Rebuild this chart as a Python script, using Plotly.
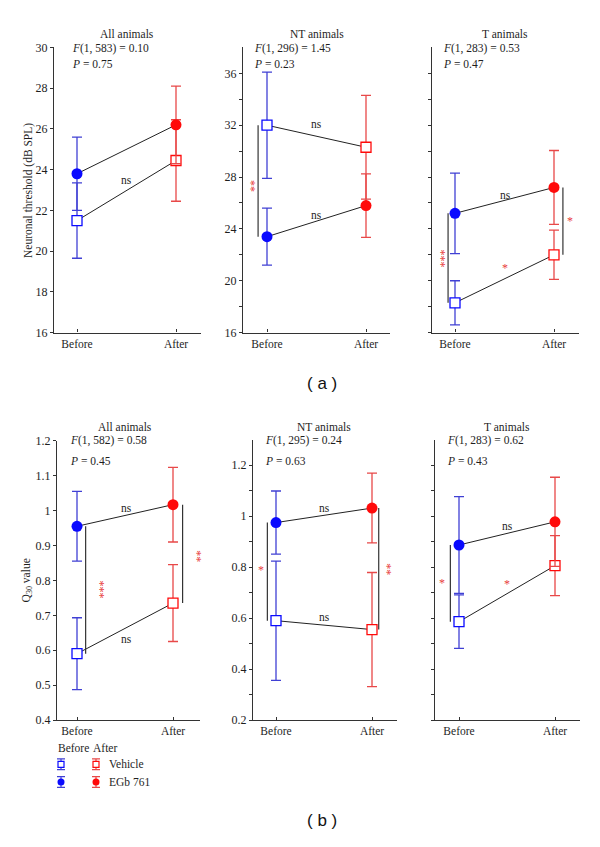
import plotly.graph_objects as go

# ---------------- data ----------------
groups = ["All animals", "NT animals", "T animals"]
conditions = ["Before", "After"]

thr_F = ["(1, 583) = 0.10", "(1, 296) = 1.45", "(1, 283) = 0.53"]
thr_P = ["0.75", "0.23", "0.47"]
q30_F = ["(1, 582) = 0.58", "(1, 295) = 0.24", "(1, 283) = 0.62"]
q30_P = ["0.45", "0.63", "0.43"]

thr_vehicle_mean = [[21.5, 24.45], [32.0, 30.3], [18.3, 22.0]]
thr_vehicle_err = [[1.85, 2.0], [4.1, 4.0], [1.7, 1.9]]
thr_egb_mean = [[23.8, 26.2], [23.4, 25.8], [25.2, 27.2]]
thr_egb_err = [[1.8, 1.9], [2.2, 2.45], [3.1, 2.85]]

q30_vehicle_mean = [[0.59, 0.735], [0.59, 0.555], [0.586, 0.806]]
q30_vehicle_err = [[0.103, 0.11], [0.234, 0.224], [0.105, 0.118]]
q30_egb_mean = [[0.955, 1.017], [0.975, 1.032], [0.887, 0.978]]
q30_egb_err = [[0.1, 0.107], [0.124, 0.137], [0.19, 0.175]]

# significance labels: (text, x in condition units, y in data units, vertical?)
thr_sig = [
    [("ns", 0.5, 23.5, False)],
    [("ns", 0.5, 32.1, False), ("ns", 0.5, 25.1, False), ("**", -0.16, 27.3, True)],
    [("ns", 0.51, 26.6, False), ("***", -0.14, 21.7, True), ("*", 1.16, 24.6, False), ("*", 0.5, 21.0, False)],
]
q30_sig = [
    [("ns", 0.52, 1.007, False), ("ns", 0.52, 0.631, False), ("***", 0.23, 0.774, True), ("**", 1.25, 0.869, True)],
    [("ns", 0.51, 1.034, False), ("ns", 0.51, 0.605, False), ("*", -0.16, 0.787, False), ("**", 1.16, 0.79, True)],
    [("ns", 0.5, 0.96, False), ("*", -0.18, 0.737, False), ("*", 0.5, 0.733, False)],
]
# brackets between EGb and Vehicle means: (condition index, x offset)
thr_brackets = [[], [(0, -0.09)], [(0, -0.07), (1, 0.09)]]
q30_brackets = [[(0, 0.09), (1, 0.1)], [(0, -0.09), (1, 0.07)], [(0, -0.09)]]

# ---------------- style ----------------
OFF = 8                      # page body margin of the html page
W, H = 600 - OFF, 847 - OFF
SERIF = "'Liberation Serif', 'Times New Roman', 'DejaVu Serif', serif"
SANS = "'Liberation Sans', Arial, sans-serif"
BLUE_M, BLUE_E = "#0a0aff", "#4040d4"
RED_M, RED_E = "#ff0a0a", "#e84848"
STAR = "#e83c3c"
TXT = "#1e1e1e"
FS = 11.5
cond_marker = [BLUE_M, RED_M]
cond_err = [BLUE_E, RED_E]

def fx(p):
    return (p - OFF) / W

def fy(p):
    return 1 - (p - OFF) / H

def font(size=FS, color=TXT, family=SERIF):
    return dict(family=family, size=size, color=color)

# panel geometry (pixels): x-domain, Before px, After px
top_geo = [(54, 201, 77, 176), (243, 390, 267, 366), (432, 579, 455, 554)]
bot_geo = [(57, 200, 77, 173), (253, 397, 276, 372), (435, 580, 459, 555)]
top_y = [(331, 41, [16, 30]), (331, 41, [16, 38]), (331, 41, [16, 38])]
bot_y = [(725, 441, [0.4, 1.2]), (725, 440, [0.2, 1.3]), (725, 440, [0.2, 1.3])]

top_ticks = [
    ([16, 18, 20, 22, 24, 26, 28, 30], ["16", "18", "20", "22", "24", "26", "28", "30"]),
    (list(range(16, 38, 2)), ["16", " ", "20", " ", "24", " ", "28", " ", "32", " ", "36"]),
    (list(range(16, 38, 2)), [" "] * 11),
]
bot_ticks = [
    ([0.4, 0.5, 0.6, 0.7, 0.8, 0.9, 1.0, 1.1, 1.2], ["0.4", "0.5", "0.6", "0.7", "0.8", "0.9", "1", "1.1", "1.2"]),
    ([0.2, 0.3, 0.4, 0.5, 0.6, 0.7, 0.8, 0.9, 1.0, 1.1, 1.2], ["0.2", " ", "0.4", " ", "0.6", " ", "0.8", " ", "1", " ", "1.2"]),
    ([0.2, 0.3, 0.4, 0.5, 0.6, 0.7, 0.8, 0.9, 1.0, 1.1, 1.2], [" "] * 11),
]

fig = go.Figure()
layout = dict(
    width=W, height=H, margin=dict(l=0, r=0, t=0, b=0),
    paper_bgcolor="white", plot_bgcolor="white", showlegend=False,
    font=font(),
)
annotations = []
shapes = []

def note(xref, yref, x, y, text, f, xanchor="center", angle=0):
    annotations.append(dict(xref=xref, yref=yref, x=x, y=y, text=text, showarrow=False,
                            xanchor=xanchor, yanchor="middle", textangle=angle, font=f))

rows = [
    (top_geo, top_y, top_ticks, thr_vehicle_mean, thr_vehicle_err, thr_egb_mean, thr_egb_err,
     thr_F, thr_P, thr_sig, thr_brackets, 27, 42, 58, [70, 252, 441]),
    (bot_geo, bot_y, bot_ticks, q30_vehicle_mean, q30_vehicle_err, q30_egb_mean, q30_egb_err,
     q30_F, q30_P, q30_sig, q30_brackets, 427, 441, 462, [68, 263, 445]),
]

ax = 0
for (geo, ygeo, ticks, vm, ve, em, ee, Fs, Ps, sigs, brs, ty, fyy, pyy, fxs) in rows:
    for g in range(3):
        ax += 1
        xa = "x" if ax == 1 else f"x{ax}"
        ya = "y" if ax == 1 else f"y{ax}"
        xkey = "xaxis" if ax == 1 else f"xaxis{ax}"
        ykey = "yaxis" if ax == 1 else f"yaxis{ax}"
        x0, x1, pb, pa = geo[g]
        yb, yt, yr = ygeo[g]
        span = pa - pb
        layout[xkey] = dict(
            domain=[fx(x0), fx(x1)], range=[(x0 - pb) / span, (x1 - pb) / span],
            anchor=ya, showline=True, linecolor="#333", linewidth=1.4,
            tickvals=[0, 1], ticktext=conditions, ticks="inside", ticklen=3,
            tickcolor="#333", showgrid=False, zeroline=False,
            tickfont=font(), fixedrange=True,
        )
        layout[ykey] = dict(
            domain=[fy(yb), fy(yt)], range=yr, anchor=xa, showline=True,
            linecolor="#333", linewidth=1.4, tickvals=ticks[g][0], ticktext=ticks[g][1],
            ticks="outside", ticklen=3, tickcolor="#333", showgrid=False, zeroline=False,
            tickfont=font(12), fixedrange=True,
        )
        # connecting lines
        for means in (vm[g], em[g]):
            fig.add_trace(go.Scatter(x=[0, 1], y=means, mode="lines",
                                     line=dict(color="#222", width=1),
                                     xaxis=xa, yaxis=ya, hoverinfo="skip"))
        # points with error bars
        for c in range(2):
            fig.add_trace(go.Scatter(
                x=[c], y=[vm[g][c]], mode="markers", xaxis=xa, yaxis=ya,
                marker=dict(symbol="square", size=10, color="white",
                            line=dict(color=cond_marker[c], width=1.3)),
                error_y=dict(type="data", array=[ve[g][c]], color=cond_err[c],
                             thickness=1.3, width=5)))
            fig.add_trace(go.Scatter(
                x=[c], y=[em[g][c]], mode="markers", xaxis=xa, yaxis=ya,
                marker=dict(symbol="circle", size=11, color=cond_marker[c],
                            line=dict(color=cond_marker[c], width=0)),
                error_y=dict(type="data", array=[ee[g][c]], color=cond_err[c],
                             thickness=1.3, width=5)))
        # brackets
        for (c, off) in brs[g]:
            shapes.append(dict(type="line", xref=xa, yref=ya, x0=c + off, x1=c + off,
                               y0=em[g][c], y1=vm[g][c], line=dict(color="#333", width=1.2)))
        # significance text
        for (txt, sx, sy, vert) in sigs[g]:
            if txt == "ns":
                note(xa, ya, sx, sy, "ns", font())
            else:
                note(xa, ya, sx, sy, txt, font(12, STAR), angle=90 if vert else 0)
        # titles and statistics
        note(xa, "paper", 0.5, fy(ty), groups[g], font())
        note("paper", "paper", fx(fxs[g]), fy(fyy), "<i>F</i>" + Fs[g], font(), xanchor="left")
        note("paper", "paper", fx(fxs[g]), fy(pyy), "<i>P</i> = " + Ps[g], font(), xanchor="left")

# y axis titles
note("paper", "paper", fx(28), fy(187), "Neuronal threshold (dB SPL)", font(), angle=-90)
note("paper", "paper", fx(27), fy(583), "Q<sub>30</sub> value", font(), angle=-90)
# panel labels
note("paper", "paper", fx(322), fy(383), "( a )", font(17, "#111", SANS))
note("paper", "paper", fx(322), fy(827), "( b )", font(17, "#111", SANS))

# ---------------- legend (mini axis in pixel units) ----------------
LX0, LX1, LY0, LY1 = 40, 240, 745, 800
layout["xaxis7"] = dict(domain=[fx(LX0), fx(LX1)], range=[LX0, LX1], visible=False,
                        anchor="y7", fixedrange=True)
layout["yaxis7"] = dict(domain=[fy(LY1), fy(LY0)], range=[LY1, LY0], visible=False,
                        anchor="x7", fixedrange=True)
legend_rows = [("square", "Vehicle", 770), ("circle", "EGb 761", 788)]
legend_cols = [61, 96]
for sym, lab, ly in legend_rows:
    for c, lx in enumerate(legend_cols):
        fig.add_trace(go.Scatter(
            x=[lx], y=[ly], mode="markers", xaxis="x7", yaxis="y7",
            marker=dict(symbol=sym, size=6 if sym == "square" else 7,
                        color="white" if sym == "square" else cond_marker[c],
                        line=dict(color=cond_marker[c], width=1.2 if sym == "square" else 0)),
            error_y=dict(type="data", array=[5.5], color=cond_err[c], thickness=1.2, width=4)))
    note("x7", "y7", 107, ly, lab, font(), xanchor="left")
note("x7", "y7", 56, 753, "Before", font(), xanchor="left")
note("x7", "y7", 91, 753, "After", font(), xanchor="left")

layout["annotations"] = annotations
layout["shapes"] = shapes
fig.update_layout(**layout)
fig.write_html("out.html")
